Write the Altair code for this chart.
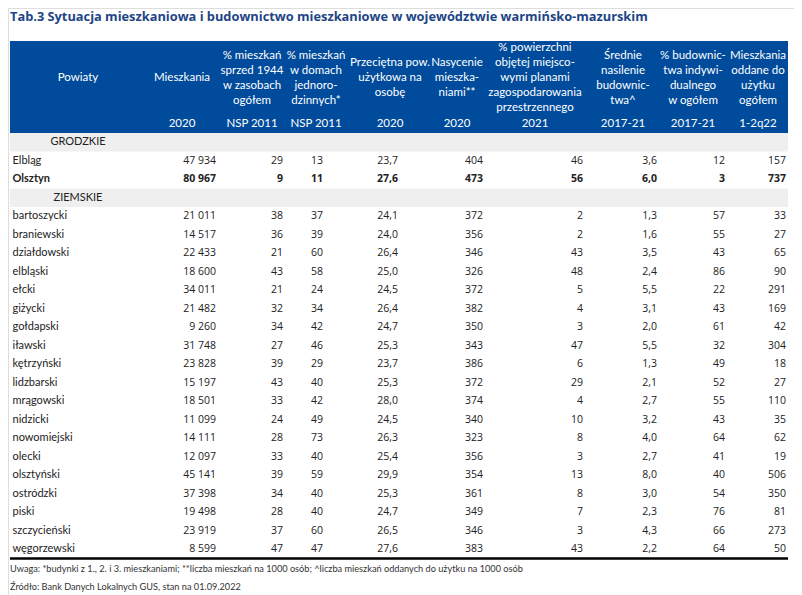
import altair as alt
import pandas as pd

# ---------------- data ----------------
TITLE = "Tab.3 Sytuacja mieszkaniowa i budownictwo mieszkaniowe w województwie warmińsko-mazurskim"
NOTE1 = ("Uwaga: *budynki z 1., 2. i 3. mieszkaniami; **liczba mieszkań na 1000 osób; "
         "^liczba mieszkań oddanych do użytku na 1000 osób")
NOTE2 = "Źródło: Bank Danych Lokalnych GUS, stan na 01.09.2022"

groups = ["GRODZKIE", "ZIEMSKIE"]
names = ["Elbląg", "Olsztyn", "bartoszycki", "braniewski", "działdowski", "elbląski", "ełcki",
         "giżycki", "gołdapski", "iławski", "kętrzyński", "lidzbarski", "mrągowski", "nidzicki",
         "nowomiejski", "olecki", "olsztyński", "ostródzki", "piski", "szczycieński", "węgorzewski"]
bold_names = ["Olsztyn"]

mieszkania = [47934, 80967, 21011, 14517, 22433, 18600, 34011, 21482, 9260, 31748, 23828,
              15197, 18501, 11099, 14111, 12097, 45141, 37398, 19498, 23919, 8599]
sprzed_1944 = [29, 9, 38, 36, 21, 43, 21, 32, 34, 27, 39, 43, 33, 24, 28, 33, 39, 34, 28, 37, 47]
domy_jednorodzinne = [13, 11, 37, 39, 60, 58, 24, 34, 42, 46, 29, 40, 42, 49, 73, 40, 59, 40, 40, 60, 47]
pow_na_osobe = [23.7, 27.6, 24.1, 24.0, 26.4, 25.0, 24.5, 26.4, 24.7, 25.3, 23.7, 25.3, 28.0,
                24.5, 26.3, 25.4, 29.9, 25.3, 24.7, 26.5, 27.6]
nasycenie = [404, 473, 372, 356, 346, 326, 372, 382, 350, 343, 386, 372, 374, 340, 323, 356,
             354, 361, 349, 346, 383]
plany = [46, 56, 2, 2, 43, 48, 5, 4, 3, 47, 6, 29, 4, 10, 8, 3, 13, 8, 7, 3, 43]
nasilenie = [3.6, 6.0, 1.3, 1.6, 3.5, 2.4, 5.5, 3.1, 2.0, 5.5, 1.3, 2.1, 2.7, 3.2, 4.0, 2.7,
             8.0, 3.0, 2.3, 4.3, 2.2]
indywidualne = [12, 3, 57, 55, 43, 86, 22, 43, 61, 32, 49, 52, 55, 43, 64, 41, 40, 54, 76, 66, 64]
oddane = [157, 737, 33, 27, 65, 90, 291, 169, 42, 304, 18, 27, 110, 35, 62, 19, 506, 350, 81, 273, 50]

headers = [
    ["Powiaty"],
    ["Mieszkania"],
    ["% mieszkań", "sprzed 1944", "w zasobach", "ogółem"],
    ["% mieszkań", "w domach", "jednoro-", "dzinnych*"],
    ["Przeciętna pow.", "użytkowa na", "osobę"],
    ["Nasycenie", "mieszka-", "niami**"],
    ["% powierzchni", "objętej miejsco-", "wymi planami", "zagospodarowania", "przestrzennego"],
    ["Średnie", "nasilenie", "budownic-", "twa^"],
    ["% budownic-", "twa indywi-", "dualnego", "w ogółem"],
    ["Mieszkania", "oddane do", "użytku", "ogółem"],
]
header_years = ["", "2020", "NSP 2011", "NSP 2011", "2020", "2020", "2021", "2017-21", "2017-21", "1-2q22"]

# ---------------- layout ----------------
W, H = 786, 587
BLUE = "#004b9b"
TITLE_COLOR = "#1d4585"
GREY = "#efefef"
NUM_FONT = "Open Sans"
TXT_FONT = "Lato"

header_centers = [70, 174, 244, 308, 382, 449, 527, 615, 685, 750]
col_right = [208, 275, 315, 390, 475, 575, 649, 717, 778]
TABLE_X0, TABLE_X1 = 2, 780
HEAD_Y0, HEAD_Y1 = 33, 125
HEAD_MID = 70
LINE_H = 15
ROW_H = 18.5


def fmt_int(v):
    return f"{v:,}".replace(",", " ")


def fmt_dec(v):
    return f"{v:.1f}".replace(".", ",")


columns = [
    [fmt_int(v) for v in mieszkania],
    [str(v) for v in sprzed_1944],
    [str(v) for v in domy_jednorodzinne],
    [fmt_dec(v) for v in pow_na_osobe],
    [str(v) for v in nasycenie],
    [str(v) for v in plany],
    [fmt_dec(v) for v in nasilenie],
    [str(v) for v in indywidualne],
    [str(v) for v in oddane],
]

# row order: GRODZKIE, Elbląg, Olsztyn, ZIEMSKIE, rest
row_of_name = {}
r = 1
for i, n in enumerate(names):
    if i == 2:
        r += 1  # skip ZIEMSKIE group row
    row_of_name[n] = r
    r += 1
n_rows = r
group_rows = [0, 3]

recs = []
for i, n in enumerate(names):
    rec = {"row": row_of_name[n], "name": n, "bold": n in bold_names}
    for c, vals in enumerate(columns):
        rec[f"c{c}"] = vals[i]
    recs.append(rec)
df = pd.DataFrame(recs)
gdf = pd.DataFrame({"row": group_rows, "label": groups})

yscale = alt.Scale(type="band", domain=list(range(n_rows)),
                   range=[HEAD_Y1, HEAD_Y1 + n_rows * ROW_H], paddingInner=0, paddingOuter=0)
Y = alt.Y("row:O", scale=yscale, axis=None)

one = pd.DataFrame({"k": [0]})
layers = []

# title
layers.append(alt.Chart(one).mark_text(align="left", baseline="middle", font="Open Sans",
                                      fontSize=12.8, fontWeight="bold", color=TITLE_COLOR)
              .encode(x=alt.value(2), y=alt.value(9), text=alt.value(TITLE)))

# header background
layers.append(alt.Chart(one).mark_rect(color=BLUE)
              .encode(x=alt.value(TABLE_X0), x2=alt.value(TABLE_X1),
                      y=alt.value(HEAD_Y0), y2=alt.value(HEAD_Y1)))

# group bands
layers.append(alt.Chart(gdf).mark_rect(color=GREY)
              .encode(x=alt.value(TABLE_X0), x2=alt.value(TABLE_X1), y=Y))
layers.append(alt.Chart(gdf).mark_text(align="center", baseline="middle", font=TXT_FONT,
                                      fontSize=11, color="#222222")
              .encode(x=alt.value(header_centers[0]), y=Y, text="label:N"))

# header texts (multi-line blocks centred vertically)
for hc, lines, yr in zip(header_centers, headers, header_years):
    y_first = HEAD_MID - (len(lines) - 1) * LINE_H / 2
    layers.append(alt.Chart(one).mark_text(align="center", baseline="middle", font=TXT_FONT,
                                          fontSize=11.5, lineHeight=LINE_H, color="white")
                  .encode(x=alt.value(hc), y=alt.value(y_first), text=alt.value(lines)))
    if yr:
        layers.append(alt.Chart(one).mark_text(align="center", baseline="middle", font=TXT_FONT,
                                              fontSize=11.5, color="white")
                      .encode(x=alt.value(hc), y=alt.value(116), text=alt.value(yr)))

# names and values
for is_bold in (False, True):
    w = "bold" if is_bold else "normal"
    base = alt.Chart(df).transform_filter(alt.datum.bold == is_bold)
    layers.append(base.mark_text(align="left", baseline="middle", font=TXT_FONT, fontSize=11,
                                 fontWeight=w, color="#222222")
                  .encode(x=alt.value(4.5), y=Y, text="name:N"))
    for c, xr in enumerate(col_right):
        layers.append(base.mark_text(align="right", baseline="middle", font=NUM_FONT,
                                     fontSize=10.5, fontWeight=w, color="#222222")
                      .encode(x=alt.value(xr), y=Y, text=f"c{c}:N"))

# bottom rule
layers.append(alt.Chart(one).mark_rule(color="black", strokeWidth=2.3)
              .encode(x=alt.value(TABLE_X0), x2=alt.value(TABLE_X1),
                      y=alt.value(HEAD_Y1 + n_rows * ROW_H)))

# notes
for txt, yy in ((NOTE1, 561), (NOTE2, 579)):
    layers.append(alt.Chart(one).mark_text(align="left", baseline="middle", font=TXT_FONT,
                                          fontSize=9.2, color="#333333")
                  .encode(x=alt.value(2), y=alt.value(yy), text=alt.value(txt)))

chart = (alt.layer(*layers)
         .properties(width=W, height=H, padding=0, autosize=alt.AutoSizeParams(type="none"))
         .configure_view(stroke=None)
         .configure(background="white"))

chart.save("out.html", embed_options={"renderer": "svg", "actions": False})
